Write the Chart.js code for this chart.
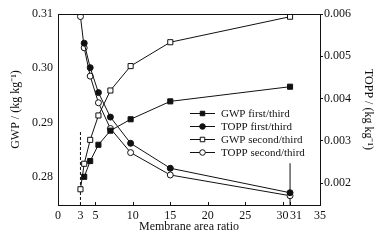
<!DOCTYPE html>
<html>
<head>
<meta charset="utf-8">
<script src="https://cdn.jsdelivr.net/npm/chart.js@4.4.1/dist/chart.umd.min.js"></script>
<style>
  html, body { margin: 0; padding: 0; background: #fff; }
  #wrap { width: 386px; height: 244px; }
</style>
</head>
<body>
<div id="wrap"><canvas id="chart1" width="386" height="244"></canvas></div>
<script>
// data
const xFirst = [3.5, 4.3, 5.4, 7, 9.7, 15, 31];
const xSecond = [3, 3.5, 4.3, 5.4, 7, 9.7, 15, 31];
const gwpFirst = [0.2800, 0.2829, 0.2859, 0.2885, 0.2906, 0.2939, 0.2966];
const toppFirst = [0.00531, 0.00473, 0.00414, 0.00356, 0.00294, 0.00235, 0.00177];
const gwpSecond = [0.2777, 0.2824, 0.2868, 0.2913, 0.2959, 0.3004, 0.3048, 0.3095];
const toppSecond = [0.00594, 0.00520, 0.00453, 0.00390, 0.00329, 0.00272, 0.00219, 0.00170];
const xTicks = [0, 3, 5, 10, 15, 20, 25, 30, 31, 35];
const gwpTicks = [0.28, 0.29, 0.30, 0.31];
const toppTicks = [0.002, 0.003, 0.004, 0.005, 0.006];
// marker lines at ratio 3 and 31
const guideX = [3, 31];
const guideTop = [0.2885, 0.2825];
const gwpMin = 0.2748, gwpMax = 0.31;
const toppMin = 0.00148, toppMax = 0.006;

const serif = "'Liberation Serif', 'Times New Roman', serif";
const ink = '#111';

function pts(xs, ys) {
    return xs.map((x, i) => ({ x: x, y: ys[i] }));
}

function series(label, xs, ys, axis, style, filled) {
    return {
        label: label,
        data: pts(xs, ys),
        yAxisID: axis,
        showLine: true,
        borderColor: ink,
        borderWidth: 1,
        pointStyle: style,
        pointRadius: style === 'rect' ? 3.6 : 3,
        pointBorderWidth: 1,
        pointBorderColor: ink,
        pointBackgroundColor: filled ? ink : '#fff',
        order: 1
    };
}

const guides = [
    {
        label: 'guide3',
        data: [{ x: guideX[0], y: gwpMin }, { x: guideX[0], y: guideTop[0] }],
        yAxisID: 'y', showLine: true, borderColor: ink, borderWidth: 1,
        borderDash: [3, 2], pointRadius: 0, order: 2
    },
    {
        label: 'guide31',
        data: [{ x: guideX[1], y: gwpMin }, { x: guideX[1], y: guideTop[1] }],
        yAxisID: 'y', showLine: true, borderColor: ink, borderWidth: 1,
        pointRadius: 0, order: 2
    }
];

const lines = [
    series('GWP first/third', xFirst, gwpFirst, 'y', 'rect', true),
    series('TOPP first/third', xFirst, toppFirst, 'y2', 'circle', true),
    series('GWP second/third', xSecond, gwpSecond, 'y', 'rect', false),
    series('TOPP second/third', xSecond, toppSecond, 'y2', 'circle', false)
];

// frame, inner x ticks and the line+marker legend
const extras = {
    id: 'extras',
    afterDraw(chart) {
        const ctx = chart.ctx;
        const a = chart.chartArea;
        const xs = chart.scales.x;
        ctx.save();
        ctx.strokeStyle = ink;
        ctx.lineWidth = 1;
        ctx.beginPath();
        ctx.moveTo(a.left, a.top + 0.5);
        ctx.lineTo(a.right, a.top + 0.5);
        xTicks.forEach(v => {
            const px = Math.round(xs.getPixelForValue(v)) + 0.5;
            ctx.moveTo(px, a.bottom);
            ctx.lineTo(px, a.bottom - 3);
        });
        ctx.stroke();

        // legend
        const lx = 190, tx = 221, y0 = 113, dy = 13;
        ctx.font = '11px ' + serif;
        ctx.textBaseline = 'middle';
        ctx.fillStyle = ink;
        lines.forEach((ds, i) => {
            const y = y0 + i * dy;
            ctx.beginPath();
            ctx.moveTo(lx, y + 0.5);
            ctx.lineTo(lx + 25, y + 0.5);
            ctx.stroke();
            ctx.fillStyle = ds.pointBackgroundColor;
            ctx.strokeStyle = ink;
            Chart.helpers.drawPoint(ctx, {
                pointStyle: ds.pointStyle,
                radius: ds.pointStyle === 'rect' ? 3.2 : 2.8,
                borderWidth: 1,
                rotation: 0
            }, lx + 12.5, y + 0.5);
            ctx.fillStyle = ink;
            ctx.fillText(ds.label, tx, y + 1);
        });
        ctx.restore();
    }
};

const ctx = document.getElementById('chart1').getContext('2d');
const chart1 = new Chart(ctx, {
    type: 'scatter',
    data: { datasets: lines.concat(guides) },
    options: {
        responsive: false,
        animation: false,
        layout: { padding: { top: 14, left: 0, right: 0, bottom: 0 } },
        scales: {
            x: {
                type: 'linear',
                min: 0,
                max: 35,
                afterBuildTicks: s => { s.ticks = xTicks.map(v => ({ value: v })); },
                afterFit: s => { s.height = 39; },
                grid: { drawOnChartArea: false, drawTicks: false },
                border: { display: true, color: ink, width: 1 },
                ticks: {
                    autoSkip: false,
                    maxRotation: 0,
                    padding: 4,
                    color: ink,
                    font: { family: serif, size: 12 },
                    callback: v => v === 31 ? '    31' : String(v)
                },
                title: {
                    display: true,
                    text: 'Membrane area ratio',
                    color: ink,
                    font: { family: serif, size: 12 },
                    padding: { top: 0, bottom: 10 }
                }
            },
            y: {
                position: 'left',
                min: gwpMin,
                max: gwpMax,
                afterBuildTicks: s => { s.ticks = gwpTicks.map(v => ({ value: v })); },
                afterFit: s => { s.width = 58; },
                grid: { drawOnChartArea: false, drawTicks: false },
                border: { display: true, color: ink, width: 1 },
                ticks: {
                    padding: 5,
                    color: ink,
                    font: { family: serif, size: 12 },
                    callback: v => v.toFixed(2)
                },
                title: {
                    display: true,
                    text: 'GWP / (kg kg\u207B\u00B9)',
                    color: ink,
                    font: { family: serif, size: 12 },
                    padding: { top: 9, bottom: 0 }
                }
            },
            y2: {
                position: 'right',
                min: toppMin,
                max: toppMax,
                afterBuildTicks: s => { s.ticks = toppTicks.map(v => ({ value: v })); },
                afterFit: s => { s.width = 66; },
                grid: { drawOnChartArea: false, drawTicks: true, tickLength: 3, color: ink },
                border: { display: true, color: ink, width: 1 },
                ticks: {
                    padding: 1,
                    color: ink,
                    font: { family: serif, size: 12 },
                    callback: v => v.toFixed(3)
                },
                title: {
                    display: true,
                    text: 'TOPP / (kg kg\u207B\u00B9)',
                    color: ink,
                    font: { family: serif, size: 12 },
                    padding: { top: 11, bottom: 0 }
                }
            }
        },
        plugins: {
            legend: { display: false },
            tooltip: { enabled: false }
        }
    },
    plugins: [extras]
});
</script>
</body>
</html>
